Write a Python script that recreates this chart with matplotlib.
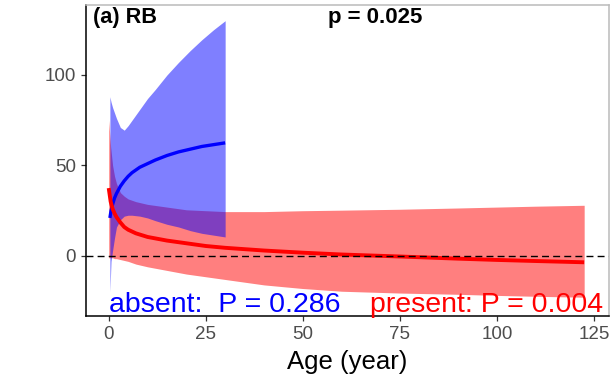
import matplotlib
matplotlib.use("Agg")
import matplotlib.pyplot as plt

plt.rcParams['font.family'] = ['Liberation Sans', 'DejaVu Sans']

# absent group (blue)
age_absent = [0.3, 0.6, 1, 1.5, 2, 3, 4, 5, 6, 8, 10, 12, 15, 18, 21, 24, 27, 30]
fit_absent = [21, 25, 28.5, 32, 34.5, 38.5, 41.5, 44, 46, 49, 51, 53, 55.5, 57.5, 59, 60.5, 61.5, 62.5]
upper_absent = [88, 85, 82, 79, 76, 71, 69.5, 72, 75, 81, 87, 92, 100, 107, 113.5, 119.5, 125, 130]
lower_absent = [-20, -3, 3, 10, 16, 20, 22, 22.5, 22.5, 22, 21, 19.5, 17.5, 16, 14, 12.5, 11.5, 10.5]

# present group (red)
age_present = [0, 0.5, 1, 1.5, 2, 3, 4, 5, 7, 10, 15, 20, 25, 30, 40, 50, 60, 75, 90, 100, 110, 122.5]
fit_present = [37.5, 30, 26, 23.5, 21.5, 18.5, 16, 14.5, 12.5, 10.5, 8.5, 7, 5.5, 4.5, 3, 1.8, 0.8, -0.3, -1.5, -2.2, -2.8, -3.5]
upper_present = [75, 60, 50, 44, 40, 35, 33, 31.5, 30, 28.5, 27, 25.5, 25, 24.5, 24.5, 25, 25.3, 25.8, 26.5, 27, 27.5, 28]
lower_present = [-1, -1, -1, -1.5, -1.5, -2, -2.5, -3, -4.5, -6, -8, -10, -11.5, -13, -16, -18, -19.5, -20.5, -21.2, -21.8, -22.3, -22.8]

xticks = [0, 25, 50, 75, 100, 125]
yticks = [0, 50, 100]

fig = plt.figure(figsize=(6.13, 3.81), dpi=100)
ax = fig.add_axes([0.140, 0.171, 0.8535, 0.816])

ax.fill_between(age_present, lower_present, upper_present, color='#FF0000', alpha=0.5, lw=0)
ax.fill_between(age_absent, lower_absent, upper_absent, color='#0000FF', alpha=0.5, lw=0)
ax.plot(age_absent, fit_absent, color='#0000FF', lw=2.4, solid_capstyle='butt')
ax.plot(age_present, fit_present, color='#FF0000', lw=2.8, solid_capstyle='butt')
ax.axhline(0, color='black', lw=1.0, ls=(0, (5, 3)))

ax.set_xlim(-5.9, 128.9)
ax.set_ylim(-33.1, 138.7)
ax.set_xticks(xticks)
ax.set_yticks(yticks)
ax.tick_params(labelsize=13.5, labelcolor='#4D4D4D', color='#333333', length=3.5, width=0.9)
for s in ['left', 'bottom']:
    ax.spines[s].set_color('black')
    ax.spines[s].set_linewidth(1.1)
for s in ['top', 'right']:
    ax.spines[s].set_color('#BBBBBB')
    ax.spines[s].set_linewidth(1.1)

ax.set_xlabel('Age (year)', fontsize=18.5, color='black', labelpad=5)

ax.text(-4.1, 131.5, '(a) RB', fontsize=15.6, fontweight='bold', va='center', ha='left')
ax.text(68.6, 131.5, 'p = 0.025', fontsize=16, fontweight='bold', va='center', ha='center')
ax.text(0, -30.8, 'absent:  P = 0.286', fontsize=20.5, color='#0000FF', va='baseline', ha='left')
ax.text(127.3, -30.8, 'present: P = 0.004', fontsize=20.5, color='#FF0000', va='baseline', ha='right')

fig.savefig('out.png', dpi=100)
